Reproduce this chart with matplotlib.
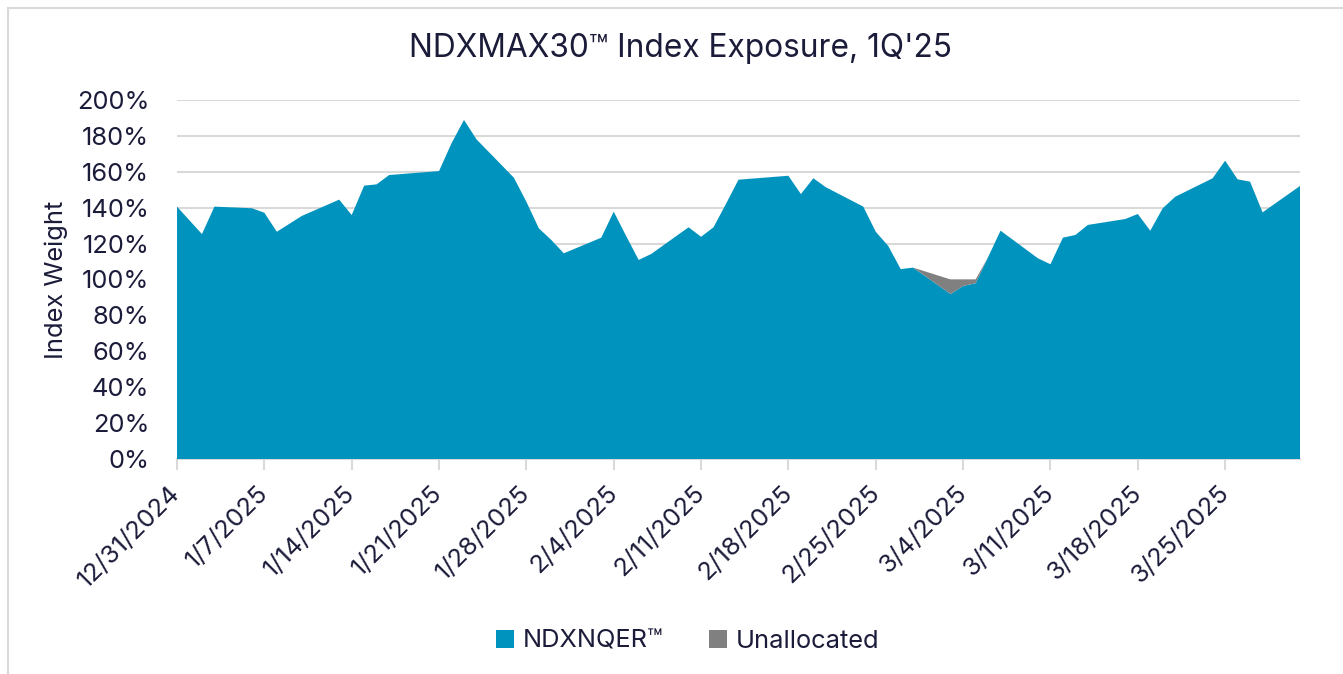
import matplotlib.pyplot as plt
import matplotlib.dates as mdates
from matplotlib.patches import Rectangle
import pandas as pd
import numpy as np

# trading days, 1Q'25
dates = ['2024-12-31', '2025-01-02', '2025-01-03', '2025-01-06', '2025-01-07', '2025-01-08',
         '2025-01-10', '2025-01-13', '2025-01-14', '2025-01-15', '2025-01-16', '2025-01-17',
         '2025-01-21', '2025-01-22', '2025-01-23', '2025-01-24', '2025-01-27', '2025-01-28',
         '2025-01-29', '2025-01-30', '2025-01-31', '2025-02-03', '2025-02-04', '2025-02-05',
         '2025-02-06', '2025-02-07', '2025-02-10', '2025-02-11', '2025-02-12', '2025-02-13',
         '2025-02-14', '2025-02-18', '2025-02-19', '2025-02-20', '2025-02-21', '2025-02-24',
         '2025-02-25', '2025-02-26', '2025-02-27', '2025-02-28', '2025-03-03', '2025-03-04',
         '2025-03-05', '2025-03-06', '2025-03-07', '2025-03-10', '2025-03-11', '2025-03-12',
         '2025-03-13', '2025-03-14', '2025-03-17', '2025-03-18', '2025-03-19', '2025-03-20',
         '2025-03-21', '2025-03-24', '2025-03-25', '2025-03-26', '2025-03-27', '2025-03-28',
         '2025-03-31']

ndxnqer = [140.6, 125.3, 140.6, 139.7, 137.2, 126.6,
           135.4, 144.5, 135.9, 152.3, 153.0, 158.2,
           160.4, 175.9, 188.9, 178.1, 156.7, 143.3,
           128.5, 122.0, 114.6, 123.3, 137.8, 124.2,
           110.9, 114.2, 129.1, 123.8, 129.1, 142.2,
           155.6, 157.8, 147.6, 156.4, 151.4, 140.6,
           126.6, 118.7, 105.8, 106.6, 91.9, 96.4,
           97.9, 112.4, 127.2, 111.8, 108.5, 123.3,
           124.8, 130.4, 133.7, 136.5, 127.2, 139.7,
           146.1, 156.4, 166.2, 155.8, 154.5, 137.4,
           152.1]

unallocated = [0] * 40 + [8.1, 3.6, 2.1] + [0] * 18

x = pd.to_datetime(dates)
blue = '#0093BD'
grey = '#808080'
navy = '#1B1B3A'
fs = 18.3

plt.rcParams['font.family'] = ['Inter', 'DejaVu Sans']

fig = plt.figure(figsize=(13.43, 6.74), dpi=100)
ax = fig.add_axes([177 / 1343, 1 - 459 / 674, (1300 - 177) / 1343, (459 - 100) / 674])

ax.stackplot(x, ndxnqer, unallocated, colors=[blue, grey],
             labels=['NDXNQER\u2122', 'Unallocated'], linewidth=0, zorder=3)

ax.set_ylim(0, 200)
ax.set_yticks(np.arange(0, 201, 20))
ax.set_yticklabels([f'{v}%' for v in range(0, 201, 20)])
for v in range(20, 201, 20):
    ax.axhline(v, color='#D9D9D9', lw=1.5, zorder=1)

start = pd.Timestamp('2024-12-31')
ax.set_xlim(start, pd.Timestamp('2025-03-31'))
ticks = pd.date_range(start, '2025-03-31', freq='7D')
ax.set_xticks(ticks)
ax.set_xticklabels([f'{d.month}/{d.day}/{d.year}' for d in ticks],
                   rotation=45, ha='right', va='center', rotation_mode='anchor')

for s in ['top', 'right', 'left']:
    ax.spines[s].set_visible(False)
ax.spines['bottom'].set_color('#D9D9D9')
ax.spines['bottom'].set_linewidth(1.5)
ax.tick_params(axis='x', length=8, width=1.5, color='#D9D9D9', pad=14,
               labelsize=fs, labelcolor=navy)
ax.tick_params(axis='y', length=0, pad=20, labelsize=fs, labelcolor=navy)

ax.set_ylabel('Index Weight', fontsize=fs, color=navy, labelpad=6, fontweight='normal')
fig.text(0.5065, 1 - 48 / 674, 'NDXMAX30\u2122 Index Exposure, 1Q\'25', ha='center', va='center',
         fontsize=22.8, color=navy)

leg = fig.legend(loc='center', bbox_to_anchor=(0.512, 1 - 641 / 674), ncol=2, frameon=False,
                 fontsize=fs, handlelength=0.7, handleheight=0.7, handletextpad=0.35,
                 columnspacing=1.8)
for t in leg.get_texts():
    t.set_color(navy)

# outer frame (only top/left edges visible in crop)
fig.patches.append(Rectangle((8 / 1343, -0.1), 1.2, 1 - 8 / 674 + 0.1, transform=fig.transFigure,
                             fill=False, edgecolor='#D9D9D9', lw=1.5))

fig.savefig('out.png', dpi=100)
